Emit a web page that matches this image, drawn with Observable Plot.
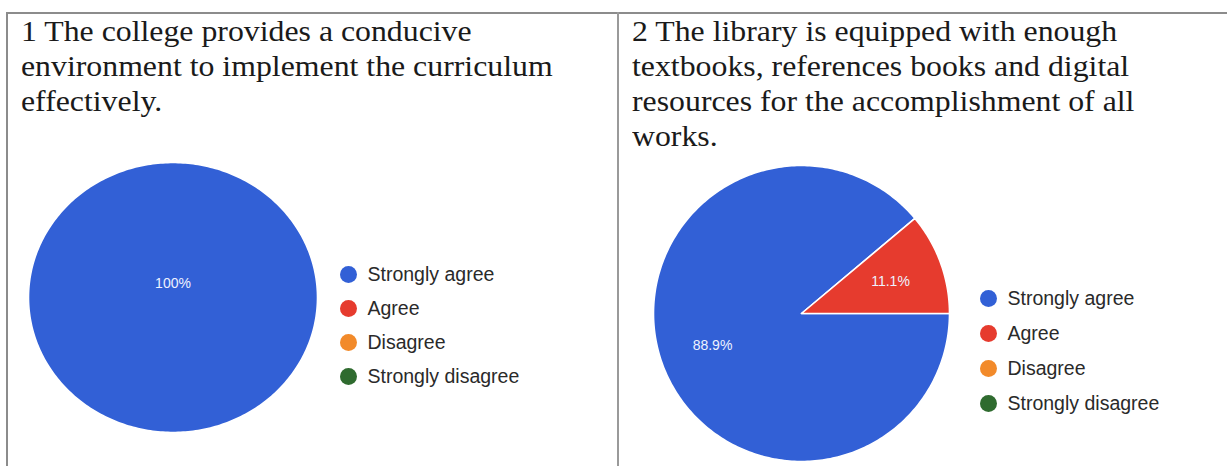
<!DOCTYPE html>
<html>
<head>
<meta charset="utf-8">
<script src="https://cdn.jsdelivr.net/npm/d3@7"></script>
<script src="https://cdn.jsdelivr.net/npm/@observablehq/plot@0.6"></script>
<style>
  body { margin: 0; background: #fff; width: 1227px; height: 466px; overflow: hidden; position: relative; }
  .frame { position: absolute; left: 6px; top: 12px; width: 1260px; height: 480px; border-top: 2px solid #8c8c8c; border-left: 2px solid #8c8c8c; }
  .divider { position: absolute; left: 617px; top: 12px; width: 2px; height: 460px; background: #9a9a9a; }
  .title { position: absolute; font-family: "Liberation Serif", "Times New Roman", "DejaVu Serif", serif; font-size: 30px; line-height: 35px; color: #1a1a1a; white-space: pre; transform: scaleX(1.06); transform-origin: 0 0; }
  .abs { position: absolute; }
</style>
</head>
<body>
<div class="frame"></div>
<div class="divider"></div>
<div id="t1" class="title" style="left:21px; top:13px;"></div>
<div id="t2" class="title" style="left:632px; top:13px;"></div>
<div id="pie1" class="abs" style="left:28px; top:162px;"></div>
<div id="pie2" class="abs" style="left:653px; top:165px;"></div>
<div id="leg1" class="abs" style="left:330px; top:255px;"></div>
<div id="leg2" class="abs" style="left:970px; top:280px;"></div>
<script>
// ---- data ----
const categories = ["Strongly agree", "Agree", "Disagree", "Strongly disagree"];
const colors = ["#3260d6", "#e63b2e", "#f28a2a", "#2f6b2f"];
const q1Values = [100, 0, 0, 0];
const q2Values = [88.9, 11.1, 0, 0];
const title1Lines = ["1 The college provides a conducive", "environment to implement the curriculum", "effectively."];
const title2Lines = ["2 The library is equipped with enough", "textbooks, references books and digital", "resources for the accomplishment of all", "works."];

document.getElementById("t1").textContent = title1Lines.join("\n");
document.getElementById("t2").textContent = title2Lines.join("\n");

function buildSlices(values) {
  const total = d3.sum(values);
  let acc = 0;
  const rows = [], labels = [];
  categories.forEach((c, i) => {
    const v = values[i];
    if (!v) return;
    const a0 = acc / total * 2 * Math.PI, a1 = (acc + v) / total * 2 * Math.PI;
    acc += v;
    const full = v === total;
    const n = Math.max(2, Math.ceil((a1 - a0) / (Math.PI / 180)));
    if (!full) rows.push({cat: c, x: 0, y: 0});
    for (let k = 0; k <= n; k++) {
      const a = a0 + (a1 - a0) * k / n; // clockwise from 3 o'clock
      rows.push({cat: c, x: Math.cos(a), y: -Math.sin(a)});
    }
    if (!full) rows.push({cat: c, x: 0, y: 0});
    const am = (a0 + a1) / 2, rl = full ? 0 : 0.64;
    labels.push({cat: c, x: rl * Math.cos(am), y: -rl * Math.sin(am),
                 text: (v / total * 100).toFixed(1).replace(/\.0$/, "") + "%"});
  });
  return {rows, labels};
}

function pie(values, w, h, labelDy) {
  const {rows, labels} = buildSlices(values);
  return Plot.plot({
    width: w, height: h, margin: 0,
    x: {domain: [-1, 1], axis: null},
    y: {domain: [-1, 1], axis: null},
    color: {domain: categories, range: colors},
    marks: [
      Plot.line(rows, {x: "x", y: "y", z: "cat", fill: "cat", stroke: "white", strokeWidth: 1.6, strokeLinejoin: "round"}),
      Plot.text(labels, {x: "x", y: "y", text: "text", dy: labelDy, fill: "#eef2ff", fontSize: 14,
                         fontFamily: "'Liberation Sans', Arial, sans-serif"})
    ]
  });
}

function legend(top, bottom) {
  return Plot.plot({
    width: 250, height: 140, margin: 0,
    y: {type: "point", domain: categories, range: [top, bottom], padding: 0, axis: null},
    color: {domain: categories, range: colors},
    marks: [
      Plot.dot(categories, {y: d => d, fill: d => d, r: 8.5, frameAnchor: "left", dx: 18}),
      Plot.text(categories, {y: d => d, text: d => d, frameAnchor: "left", dx: 37, textAnchor: "start",
                             fontSize: 19.5, fill: "#2a2a2a", fontFamily: "'Liberation Sans', Arial, sans-serif"})
    ]
  });
}

document.getElementById("pie1").append(pie(q1Values, 289, 270, -14));
document.getElementById("pie2").append(pie(q2Values, 296, 296, 0));
document.getElementById("leg1").append(legend(18, 122));
document.getElementById("leg2").append(legend(17, 123));
</script>
</body>
</html>
